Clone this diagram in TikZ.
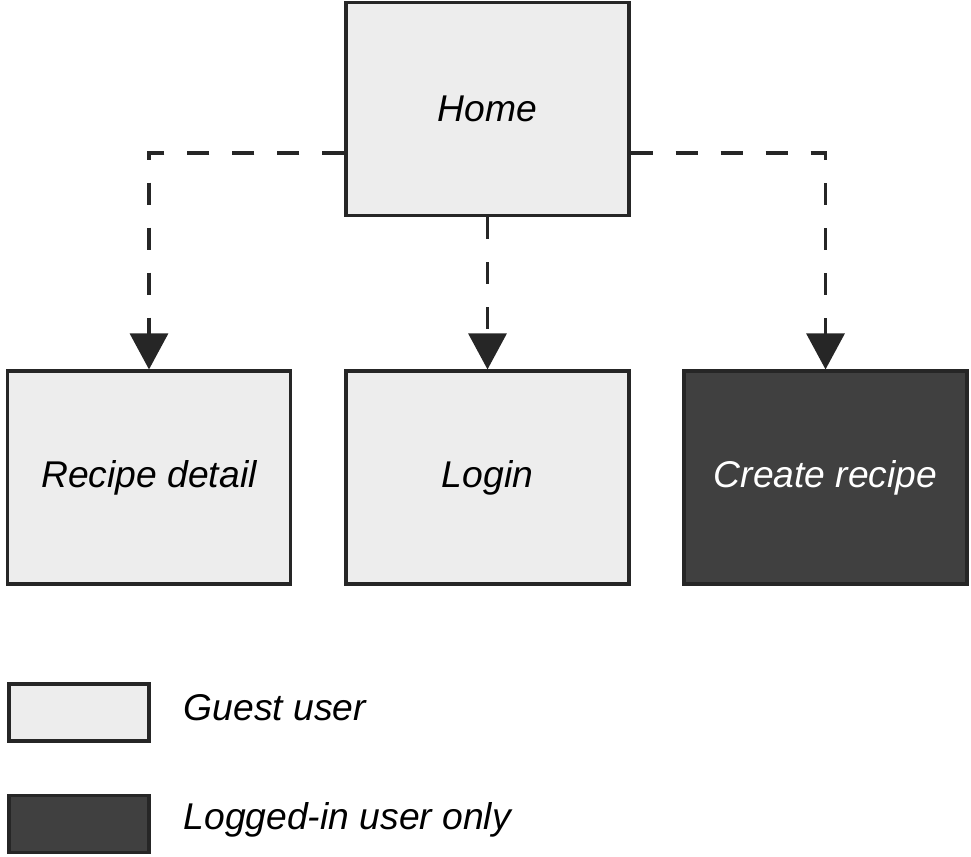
\documentclass[tikz,border=0pt]{standalone}
\usepackage{fontspec}
\setmainfont{Liberation Sans}
\usetikzlibrary{arrows.meta}

\begin{document}
\begin{tikzpicture}

            \tikzstyle{guestnode} = [draw=black!85, line width=0.9pt, fill=black!7, minimum width=2.83cm, minimum height=2.13cm, font=\fontsize{10.6}{12}\selectfont\itshape];
            \tikzstyle{usernode} = [guestnode, fill=black!75, text=white];
            \tikzstyle{keynode} = [draw=black!85, line width=0.9pt, minimum width=1.4cm, minimum height=0.57cm];
            \tikzstyle{keytext} = [anchor=west, inner sep=0, font=\fontsize{10.6}{12}\selectfont\itshape];
            \tikzstyle{arrow} = [line width=0.9pt, black!85, dash pattern=on 0.22cm off 0.23cm, -{Triangle[width=0.38cm, length=0.36cm]}];

            \useasboundingbox (0,0) rectangle (9.71,8.56);

            \node[guestnode] (home) at (4.875,7.47) {Home};
            \node[guestnode] (recipe) at (1.49,3.785) {Recipe detail};
            \node[guestnode] (login) at (4.875,3.785) {Login};
            \node[usernode] (create) at (8.255,3.785) {Create recipe};

            \draw [arrow] ([yshift=-4.4mm]home.west) -| (recipe.north);
            \draw [arrow] (home.south) -- (login.north);
            \draw [arrow] ([yshift=-4.4mm]home.east) -| (create.north);

            \node[keynode, fill=black!7] (guestkey) at (0.79,1.435) {};
            \node[keynode, fill=black!75] (userkey) at (0.79,0.32) {};
            \node[keytext] (guesttext) at (1.83,1.48) {Guest user};
            \node[keytext] (usertext) at (1.83,0.36) {Logged-in user only};

        \end{tikzpicture}
\end{document}
